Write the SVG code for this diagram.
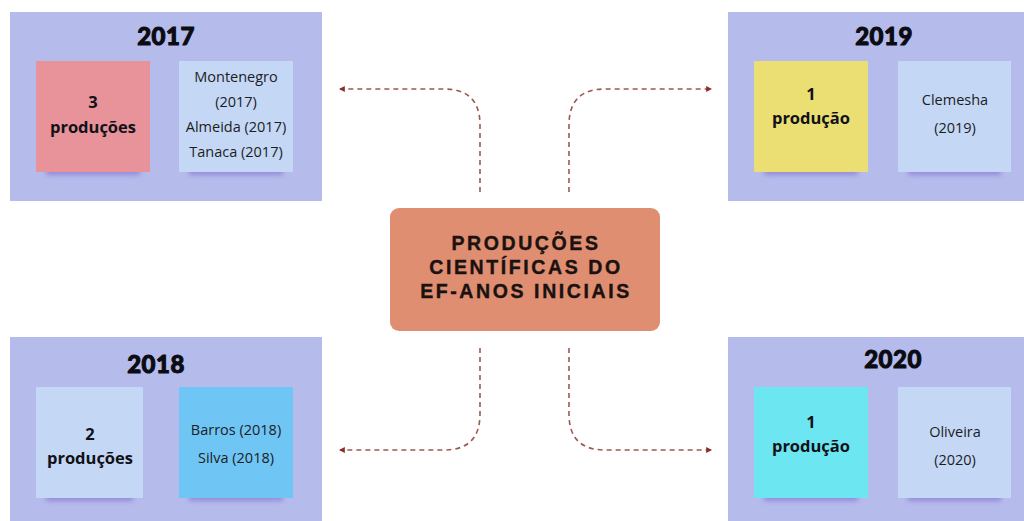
<svg xmlns="http://www.w3.org/2000/svg" width="1024" height="521" viewBox="0 0 1024 521">
  <defs>
    <style>
      .panel { fill: #B5BCEC; }
      .card-shadow { fill: #7A5FC8; opacity: 0.55; filter: url(#soft); }
      .year { font-family: Lato, "Liberation Sans", sans-serif; font-weight: 900; font-size: 24px; fill: #0b0b12; stroke: #0b0b12; stroke-width: 1; text-anchor: middle; letter-spacing: 0.5px; }
      .count { font-family: "Open Sans", "Liberation Sans", sans-serif; font-weight: 700; font-size: 16.5px; fill: #111118; text-anchor: middle; }
      .ref { font-family: "Open Sans", "Liberation Sans", sans-serif; font-weight: 400; font-size: 14.5px; fill: #1c1c24; text-anchor: middle; }
      .hub { font-family: "Liberation Sans", sans-serif; font-weight: 700; font-size: 19.5px; letter-spacing: 2.6px; fill: #1a1210; stroke: #1a1210; stroke-width: 0.4; text-anchor: middle; }
      .link { fill: none; stroke: #9A5A52; stroke-width: 1.6; stroke-dasharray: 5 4; }
    </style>
    <filter id="soft" x="-20%" y="-100%" width="140%" height="300%">
      <feGaussianBlur stdDeviation="2.5"/>
    </filter>
    <marker id="tip" viewBox="0 0 10 10" refX="8" refY="5" markerWidth="6" markerHeight="6" orient="auto-start-reverse" markerUnits="userSpaceOnUse">
      <path d="M0,0 L10,5 L0,10 z" fill="#8A2E26"/>
    </marker>
  </defs>

  <rect width="1024" height="521" fill="#ffffff"/>

  <!-- dashed connectors from the hub to each year -->
  <g id="connectors">
    <path class="link" d="M480,192 V125 Q480,89 444,89 H340" marker-end="url(#tip)"/>
    <path class="link" d="M569,192 V125 Q569,89 605,89 H711" marker-end="url(#tip)"/>
    <path class="link" d="M480,348 V414 Q480,450 444,450 H340" marker-end="url(#tip)"/>
    <path class="link" d="M569,348 V414 Q569,450 605,450 H711" marker-end="url(#tip)"/>
  </g>

  <!-- central hub -->
  <g id="hub">
    <rect x="390" y="208" width="270" height="123" rx="9" fill="#E08E71"/>
    <text class="hub" x="526" y="250">PRODUÇÕES</text>
    <text class="hub" x="526" y="274">CIENTÍFICAS DO</text>
    <text class="hub" x="526" y="298">EF-ANOS INICIAIS</text>
  </g>

  <!-- 2017 -->
  <g id="year-2017">
    <rect class="panel" x="10" y="12" width="312" height="189"/>
    <text class="year" x="166" y="45">2017</text>
    <rect class="card-shadow" x="46" y="168" width="94" height="7"/>
    <rect x="36" y="61" width="114" height="111" fill="#E8929A"/>
    <text class="count" x="93" y="108">3</text>
    <text class="count" x="93" y="133">produções</text>
    <rect class="card-shadow" x="189" y="168" width="94" height="7"/>
    <rect x="179" y="61" width="114" height="111" fill="#C4D8F6"/>
    <text class="ref" x="236" y="82">Montenegro</text>
    <text class="ref" x="236" y="107">(2017)</text>
    <text class="ref" x="236" y="132">Almeida (2017)</text>
    <text class="ref" x="236" y="157">Tanaca (2017)</text>
  </g>

  <!-- 2019 -->
  <g id="year-2019">
    <rect class="panel" x="728" y="12" width="296" height="189"/>
    <text class="year" x="884" y="45">2019</text>
    <rect class="card-shadow" x="764" y="168" width="94" height="7"/>
    <rect x="754" y="61" width="114" height="111" fill="#EBDF74"/>
    <text class="count" x="811" y="100">1</text>
    <text class="count" x="811" y="124">produção</text>
    <rect class="card-shadow" x="908" y="168" width="93" height="7"/>
    <rect x="898" y="61" width="113" height="111" fill="#C4D8F6"/>
    <text class="ref" x="955" y="105">Clemesha</text>
    <text class="ref" x="955" y="133">(2019)</text>
  </g>

  <!-- 2018 -->
  <g id="year-2018">
    <rect class="panel" x="10" y="337" width="312" height="184"/>
    <text class="year" x="156" y="373">2018</text>
    <rect class="card-shadow" x="46" y="494" width="87" height="7"/>
    <rect x="36" y="387" width="107" height="111" fill="#C4D8F6"/>
    <text class="count" x="90" y="440">2</text>
    <text class="count" x="90" y="464">produções</text>
    <rect class="card-shadow" x="189" y="494" width="94" height="7"/>
    <rect x="179" y="387" width="114" height="111" fill="#6FC6F4"/>
    <text class="ref" x="236" y="435">Barros (2018)</text>
    <text class="ref" x="236" y="463">Silva (2018)</text>
  </g>

  <!-- 2020 -->
  <g id="year-2020">
    <rect class="panel" x="728" y="337" width="296" height="184"/>
    <text class="year" x="893" y="368">2020</text>
    <rect class="card-shadow" x="764" y="494" width="94" height="7"/>
    <rect x="754" y="387" width="114" height="111" fill="#6CE6F1"/>
    <text class="count" x="811" y="428">1</text>
    <text class="count" x="811" y="452">produção</text>
    <rect class="card-shadow" x="908" y="494" width="93" height="7"/>
    <rect x="898" y="387" width="113" height="111" fill="#C4D8F6"/>
    <text class="ref" x="955" y="437">Oliveira</text>
    <text class="ref" x="955" y="465">(2020)</text>
  </g>
</svg>
